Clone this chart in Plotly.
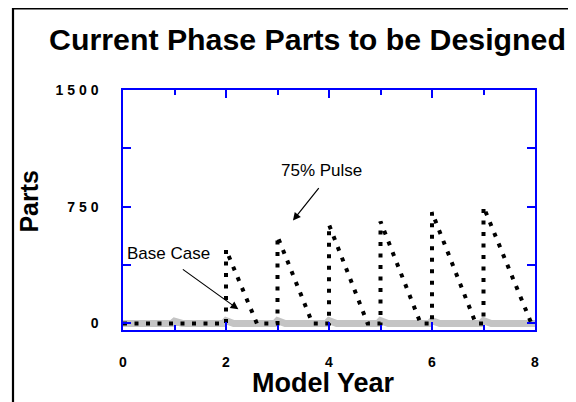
import plotly.graph_objects as go

# Dati
pulse_years = [0, 2.0, 2.0, 2.6, 3.0, 3.0, 3.68, 4.0, 4.0, 4.75, 5.0, 5.0, 5.78, 6.0, 6.0, 6.85, 7.0, 7.0, 7.93, 8.0]
pulse_parts = [0, 0, 475, 0, 0, 560, 0, 0, 635, 0, 0, 655, 0, 0, 715, 0, 0, 750, 0, 0]

base_years = [0, 0.95, 1.0, 1.15, 1.95, 2.0, 2.15, 2.95, 3.0, 3.15, 3.95, 4.0, 4.15,
              4.95, 5.0, 5.15, 5.95, 6.0, 6.15, 6.95, 7.0, 7.15, 8.0]
base_parts = [0, 0, 15, 0, 0, 18, 0, 0, 18, 0, 0, 18, 0, 0, 18, 0, 0, 18, 0, 0, 18, 0, 0]

y_tickvals = [0, 750, 1500]
y_ticktext = ["0", "7 5 0", "1 5 0 0"]
x_tickvals = [0, 2, 4, 6, 8]

fig = go.Figure()

# Base Case (linea grigia spessa)
fig.add_trace(go.Scatter(
    x=base_years, y=base_parts, mode='lines',
    line=dict(color='#c4c4c4', width=7),
))

# 75% Pulse (linea tratteggiata nera)
fig.add_trace(go.Scatter(
    x=pulse_years, y=pulse_parts, mode='lines',
    line=dict(color='black', width=4, dash='4px,7.5px'),
))

# la pagina ha 8px di margine nel body: dimensioni ridotte di conseguenza
fig.update_layout(
    width=568, height=394,
    margin=dict(l=115, r=41, t=82, b=72),
    paper_bgcolor='white', plot_bgcolor='white',
    showlegend=False,
    font=dict(family="Liberation Sans", color='black'),
    title=dict(text='<b>Current Phase Parts to be Designed</b>', x=299.5 / 568, xanchor='center',
               y=1 - 31.5 / 394, yanchor='middle', yref='container', font=dict(size=30.3)),
)

fig.update_xaxes(
    range=[0, 8], tickvals=x_tickvals, ticktext=[f"<b>{v}</b>" for v in x_tickvals],
    showgrid=False, zeroline=False,
    showline=True, linecolor='blue', linewidth=1.5, mirror='ticks',
    ticks='inside', ticklen=8, tickcolor='blue', tickwidth=1.5,
    minor=dict(dtick=1, ticks='inside', ticklen=5, tickcolor='blue', tickwidth=1.5),
    ticklabelstandoff=18, tickfont=dict(size=14),
)

fig.update_yaxes(
    range=[-42, 1500], tickvals=y_tickvals, ticktext=[f"<b>{t}</b>" for t in y_ticktext],
    showgrid=False, zeroline=False,
    showline=True, linecolor='blue', linewidth=1.5, mirror='ticks',
    ticks='inside', ticklen=8, tickcolor='blue', tickwidth=1.5,
    minor=dict(tickvals=[375, 1125], ticks='inside', ticklen=8, tickcolor='blue', tickwidth=1.5),
    ticklabelstandoff=20, tickfont=dict(size=14),
)

# Titoli degli assi
fig.add_annotation(xref='paper', yref='paper', x=0.5 - 6 / 412, y=(322 - 375) / 240,
                   text='<b>Model Year</b>', showarrow=False, font=dict(size=27),
                   xanchor='center', yanchor='middle')
fig.add_annotation(xref='paper', yref='paper', x=(21 - 115) / 412, y=0.535,
                   text='<b>Parts</b>', showarrow=False, font=dict(size=25),
                   textangle=-90, xanchor='center', yanchor='middle')

# Cornice nera esterna
fig.add_shape(type='rect', xref='paper', yref='paper',
              x0=(5 - 115) / 412, x1=1.3, y0=-0.6, y1=(322 - 0.5) / 240,
              line=dict(color='black', width=2.2), layer='below')

# Annotazioni
fig.add_annotation(x=3.30, y=661, ax=27, ay=-34, text='', showarrow=True,
                   arrowhead=2, arrowsize=1.3, arrowwidth=1.2, arrowcolor='black')
fig.add_annotation(x=3.85, y=986, text='75% Pulse', showarrow=False,
                   font=dict(size=17))
fig.add_annotation(x=2.24, y=91, ax=-57, ay=-41, text='', showarrow=True,
                   arrowhead=2, arrowsize=1.3, arrowwidth=1.2, arrowcolor='black')
fig.add_annotation(x=0.89, y=447, text='Base Case', showarrow=False,
                   font=dict(size=17))

fig.write_html("out.html")
